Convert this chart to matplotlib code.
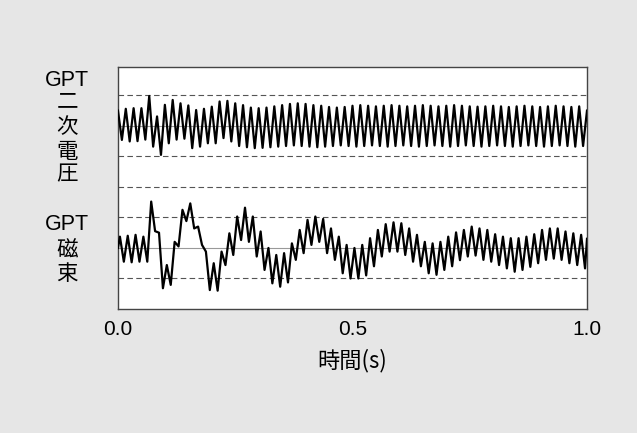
import numpy as np
import matplotlib
matplotlib.use("Agg")
import matplotlib.pyplot as plt

# per-cycle (60 Hz) peak and trough values, in units of the dashed-line spacing
gpt_v_peaks = [0.50, 0.56, 0.58, 0.58, 0.98, 0.31, 0.69, 0.85, 0.74, 0.67,
               0.52, 0.56, 0.63, 0.80, 0.82, 0.74, 0.68, 0.60, 0.58, 0.60,
               0.64, 0.68, 0.72, 0.74, 0.72, 0.68, 0.66, 0.62, 0.60, 0.62,
               0.66, 0.68, 0.66, 0.64, 0.66, 0.68, 0.66, 0.64, 0.66, 0.68,
               0.66, 0.64, 0.66, 0.68, 0.66, 0.64, 0.63, 0.64, 0.66, 0.64,
               0.62, 0.64, 0.66, 0.64, 0.62, 0.64, 0.66, 0.64, 0.62, 0.64]
gpt_v_troughs = [-0.46, -0.51, -0.50, -0.45, -0.68, -0.95, -0.57, -0.45, -0.42, -0.73,
                 -0.68, -0.57, -0.57, -0.40, -0.51, -0.66, -0.70, -0.73, -0.72, -0.70,
                 -0.68, -0.66, -0.64, -0.66, -0.68, -0.70, -0.68, -0.66, -0.64, -0.66,
                 -0.68, -0.66, -0.64, -0.66, -0.68, -0.66, -0.64, -0.66, -0.68, -0.66,
                 -0.64, -0.66, -0.68, -0.66, -0.64, -0.66, -0.68, -0.66, -0.64, -0.66,
                 -0.68, -0.66, -0.64, -0.66, -0.68, -0.66, -0.64, -0.66, -0.68, -0.66]
flux_peaks = [0.37, 0.40, 0.43, 0.37, 1.52, 0.50, -0.56, 0.20, 1.25, 1.46,
              0.70, -0.12, -0.50, -0.12, 0.48, 1.03, 1.32, 1.03, 0.54, 0.00,
              -0.23, -0.17, 0.15, 0.59, 0.92, 1.03, 0.95, 0.64, 0.37, 0.10,
              0.00, 0.10, 0.32, 0.59, 0.78, 0.84, 0.81, 0.64, 0.43, 0.20,
              0.15, 0.20, 0.37, 0.51, 0.59, 0.70, 0.64, 0.59, 0.45, 0.37,
              0.32, 0.32, 0.37, 0.45, 0.59, 0.64, 0.64, 0.54, 0.48, 0.43]
flux_troughs = [-0.45, -0.47, -0.45, -0.45, 0.55, -1.32, -1.21, 0.05, 0.88, 0.64,
                0.10, -1.38, -1.40, -0.56, -0.23, 0.26, 0.20, -0.28, -0.72, -1.16,
                -1.27, -1.13, -0.39, -0.17, 0.10, 0.20, -0.17, -0.39, -0.83, -1.00,
                -1.00, -0.90, -0.60, -0.28, -0.12, -0.12, -0.23, -0.45, -0.60, -0.83,
                -0.88, -0.72, -0.60, -0.40, -0.28, -0.25, -0.39, -0.45, -0.56, -0.67,
                -0.78, -0.72, -0.62, -0.50, -0.39, -0.35, -0.39, -0.50, -0.56, -0.67]
flux_start, flux_end = 0.0, 0.3
gpt_v_end = 0.5

freq = 60
top_center, bottom_center = 4.0, 0.0
dash_levels = [-1, 1, 2, 3, 5]
x_ticks = [0.0, 0.5, 1.0]
x_ticklabels = ["0.0", "0.5", "1.0"]


def interleave(peaks, troughs):
    out = np.empty(2 * len(peaks))
    out[0::2] = peaks
    out[1::2] = troughs
    return out


n = 2 * len(gpt_v_peaks)
t_top = np.append(np.arange(n) / (2 * freq), 1.0)
y_top = np.append(interleave(gpt_v_peaks, gpt_v_troughs), gpt_v_end) + top_center
t_bot = np.concatenate([[0.0], (np.arange(n) + 0.5) / (2 * freq), [1.0]])
y_bot = np.concatenate([[flux_start], interleave(flux_peaks, flux_troughs), [flux_end]]) + bottom_center

bg = "#e6e6e6"
fig = plt.figure(figsize=(6.37, 4.33), dpi=100, facecolor=bg)
ax = fig.add_axes([0.1852, 0.2864, 0.7363, 0.5589])
ax.set_facecolor("white")

for lv in dash_levels:
    ax.axhline(lv, color="#555555", lw=0.8, ls=(0, (5, 3)), zorder=1)
for c in (top_center, bottom_center):
    ax.axhline(c, color="#999999", lw=0.8, zorder=1)

for t, y in ((t_top, y_top), (t_bot, y_bot)):
    ax.plot(t, y, color="black", lw=1.6, solid_joinstyle="round", zorder=3)

ax.set_xlim(0, 1.0)
ax.set_ylim(-2.0, 5.93)
ax.set_yticks([])
ax.set_xticks(x_ticks)
ax.set_xticklabels(x_ticklabels, family="Liberation Sans", fontsize=15)
ax.tick_params(axis="x", length=0, pad=8)
for s in ax.spines.values():
    s.set_color("#444444")
    s.set_linewidth(1.0)

fam = ["Liberation Sans", "Noto Sans CJK JP"]
ax.set_xlabel("時間(s)", family=["Noto Sans CJK JP"], fontsize=16, labelpad=7)

# stacked left-hand labels, placed in figure pixels
W, H = 637, 433
top_label = [("GPT", 81), ("二", 102), ("次", 128), ("電", 152), ("圧", 175)]
bot_label = [("GPT", 225), ("磁", 251), ("束", 274)]
for txt, ypx in top_label + bot_label:
    fig.text(67 / W, 1 - ypx / H, txt, family=fam, fontsize=15.5,
             ha="center", va="center")

fig.savefig("out.png", dpi=100, facecolor=bg)
